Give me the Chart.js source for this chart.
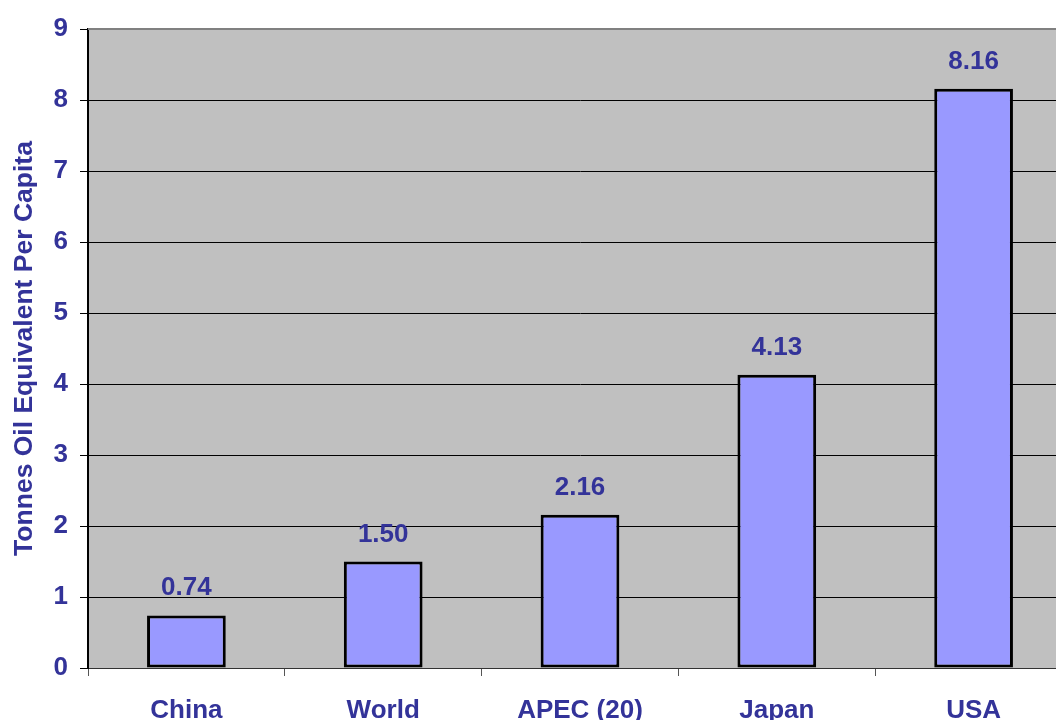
<!DOCTYPE html>
<html>
<head>
<meta charset="utf-8">
<script src="https://cdn.jsdelivr.net/npm/chart.js@4"></script>
<style>
  html, body { margin: 0; padding: 0; background: #fff; overflow: hidden; }
  canvas { display: block; }
</style>
</head>
<body>
<canvas id="chart" width="1072" height="720"></canvas>
<script>
// данные
const regions = ['China', 'World', 'APEC (20)', 'Japan', 'USA'];
const perCapita = [0.74, 1.50, 2.16, 4.13, 8.16];
const yTicks = [0, 1, 2, 3, 4, 5, 6, 7, 8, 9];

const textColor = '#333399';
const fontFamily = '"Liberation Sans", Arial, sans-serif';

// фон области графика + верхняя серая рамка
const plotBackground = {
    id: 'plotBackground',
    beforeDraw(chart) {
        const { ctx, chartArea } = chart;
        ctx.save();
        ctx.fillStyle = '#C0C0C0';
        ctx.fillRect(chartArea.left, chartArea.top, chartArea.right - chartArea.left, chartArea.bottom - chartArea.top);
        ctx.restore();
    },
    afterDatasetsDraw(chart) {
        const { ctx, chartArea } = chart;
        ctx.save();
        ctx.strokeStyle = '#808080';
        ctx.lineWidth = 2;
        ctx.beginPath();
        ctx.moveTo(chartArea.left, chartArea.top);
        ctx.lineTo(chartArea.right, chartArea.top);
        ctx.stroke();
        ctx.restore();
    }
};

// подписи значений над столбцами
const valueLabels = {
    id: 'valueLabels',
    afterDatasetsDraw(chart) {
        const { ctx } = chart;
        const meta = chart.getDatasetMeta(0);
        ctx.save();
        ctx.font = 'bold 26px ' + fontFamily;
        ctx.fillStyle = textColor;
        ctx.textAlign = 'center';
        ctx.textBaseline = 'alphabetic';
        meta.data.forEach((bar, i) => {
            ctx.fillText(perCapita[i].toFixed(2), bar.x, bar.y - 20);
        });
        ctx.restore();
    }
};

new Chart(document.getElementById('chart'), {
    type: 'bar',
    data: {
        labels: regions,
        datasets: [{
            data: perCapita,
            backgroundColor: '#9999FF',
            borderColor: '#000000',
            borderWidth: 3,
            borderSkipped: false,
            barPercentage: 0.4,
            categoryPercentage: 1.0
        }]
    },
    options: {
        responsive: false,
        animation: false,
        layout: { padding: { top: 29, right: 0, left: 0, bottom: 0 } },
        plugins: {
            legend: { display: false },
            tooltip: { enabled: false }
        },
        scales: {
            x: {
                afterFit(scale) { scale.height = 52; },
                grid: {
                    offset: true,
                    drawOnChartArea: false,
                    color: '#555555',
                    tickLength: 8
                },
                border: { color: '#333333', width: 1 },
                ticks: {
                    color: textColor,
                    font: { family: fontFamily, size: 26, weight: 'bold' },
                    padding: 19,
                    maxRotation: 0
                }
            },
            y: {
                min: 0,
                max: 9,
                afterFit(scale) { scale.width = 88; },
                afterBuildTicks(scale) {
                    scale.ticks = yTicks.map(v => ({ value: v }));
                },
                grid: {
                    color: '#000000',
                    lineWidth: 1,
                    tickLength: 8
                },
                border: { color: '#000000', width: 2 },
                ticks: {
                    color: textColor,
                    font: { family: fontFamily, size: 26, weight: 'bold' },
                    padding: 12
                },
                title: {
                    display: true,
                    text: 'Tonnes Oil Equivalent Per Capita',
                    color: textColor,
                    font: { family: fontFamily, size: 26.5, weight: 'bold' },
                    padding: { top: 9, bottom: 0 }
                }
            }
        }
    },
    plugins: [plotBackground, valueLabels]
});
</script>
</body>
</html>
